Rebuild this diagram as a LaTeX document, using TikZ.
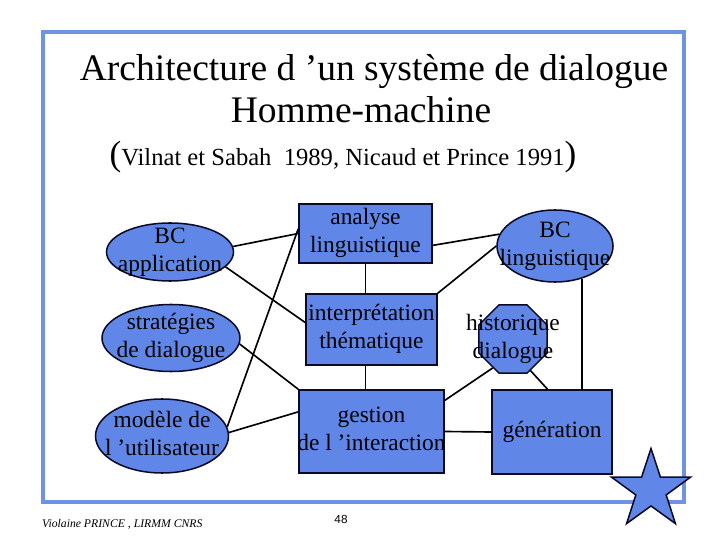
\documentclass[tikz,border=0pt]{standalone}
\usepackage{fontspec}
\setmainfont{Liberation Serif}
\newfontfamily\numfont{Liberation Sans}
\usetikzlibrary{shapes.geometric}

\definecolor{framecol}{RGB}{112,146,226}
\definecolor{nodefill}{RGB}{96,134,232}
\definecolor{edgecol}{RGB}{10,10,40}

% text centred on a shape but allowed to run over its border
\newcommand\ctext[1]{\makebox[0pt]{\raisebox{-.25em}[0pt][0pt]{\begin{tabular}{@{}c@{}}#1\end{tabular}}}}

\begin{document}
\begin{tikzpicture}[
  x=0.03cm, y=-0.03cm,
  font=\fontsize{20}{24}\selectfont,
  base/.style={draw=edgecol, line width=1.3pt, fill=nodefill, inner sep=0pt},
  ell/.style={base, ellipse},
  box/.style={base, rectangle},
  link/.style={line width=1.4pt, draw=black}
]
\useasboundingbox (0,0) rectangle (720,540);
\draw[framecol, line width=3.2pt] (43,32) rectangle (684,502);

\node[anchor=base, font=\fontsize{32}{36}\selectfont] (title)  at (374,81)  {Architecture d ’un système de dialogue};
\node[anchor=base, font=\fontsize{32}{36}\selectfont] (title2) at (361,123) {Homme-machine};
\node[anchor=base, font=\fontsize{21}{24}\selectfont] (source) at (343,166)
  {{\fontsize{30}{30}\selectfont(}Vilnat et Sabah\ \ 1989, Nicaud et Prince 1991{\fontsize{30}{30}\selectfont)}};

% left column: knowledge sources
\node[ell, minimum width=3.81cm, minimum height=1.74cm] (bcapp)  at (170,252) {\ctext{BC\\application}};
\node[ell, minimum width=4.14cm, minimum height=2.01cm] (strat)  at (171,338) {\ctext{stratégies\\de dialogue}};
\node[ell, minimum width=3.99cm, minimum height=2.22cm] (modele) at (162,436) {\ctext{modèle de\\l ’utilisateur}};

% middle column: processing modules
\node[box, minimum width=3.99cm, minimum height=1.77cm] (analyse) at (365.5,233.5) {\ctext{analyse\\linguistique}};
\node[box, minimum width=3.93cm, minimum height=2.13cm] (interp)  at (371.5,329.5) {\ctext{interprétation\\thématique}};
\node[box, minimum width=4.35cm, minimum height=2.49cm] (gestion) at (371.5,431.5) {\ctext{gestion\\de l ’interaction}};

% right column
\node[ell, minimum width=3.48cm, minimum height=2.16cm] (bcling) at (555,246) {\ctext{BC\\linguistique}};
\node[base, regular polygon, regular polygon sides=8, minimum size=2.21cm] (histo) at (513,339) {\ctext{historique\\dialogue}};
\node[box, minimum width=3.6cm, minimum height=2.52cm] (gener) at (552,432) {\ctext{génération}};

\node[base, star, star points=5, star point ratio=2.6, minimum size=2.49cm] (star) at (651,490) {};

\draw[link] (bcapp.5)   -- (analyse.west);
\draw[link] (bcapp.-15) -- (interp.174);
\draw[link] (strat.-5)  -- (gestion.north west);
\draw[link] (modele.8)  -- (analyse.176);
\draw[link] (modele.3)  -- (gestion.165);
\draw[link] (analyse.south) -- (analyse.south |- interp.north);
\draw[link] (interp.south -| analyse.south) -- (analyse.south |- gestion.north);
\draw[link] (analyse.-10) -- (bcling.168);
\draw[link] (interp.north east) -- (bcling.west);
\draw[link] (gestion.23) -- (histo.235);
\draw[link] (gestion.east) -- (gener.west);
\draw[link] (histo.-61) -- (gener.96);
\draw[link] (bcling.-50) -- (bcling.-50 |- gener.north);

\node[anchor=base west, inner sep=0pt, font=\fontsize{10}{12}\selectfont\itshape] (author) at (42,527) {Violaine PRINCE , LIRMM CNRS};
\node[anchor=base, inner sep=0pt, font=\numfont\fontsize{10}{12}\selectfont] (page) at (341,523) {48};
\end{tikzpicture}
\end{document}
